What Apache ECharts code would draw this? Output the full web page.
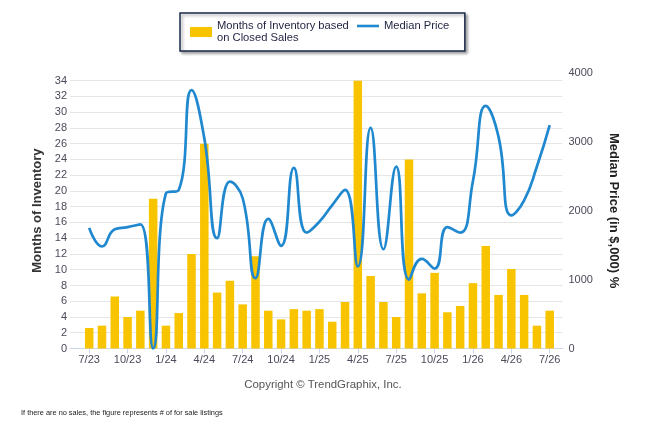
<!DOCTYPE html>
<html>
<head>
<meta charset="utf-8">
<script src="https://cdn.jsdelivr.net/npm/echarts@6/dist/echarts.min.js"></script>
<style>
  html, body { margin: 0; padding: 0; background: #fff; }
  #container { width: 646px; height: 434px; }
</style>
</head>
<body>
<div id="container"></div>
<script>
const months = [
  "7/23", "8/23", "9/23", "10/23", "11/23", "12/23",
  "1/24", "2/24", "3/24", "4/24", "5/24", "6/24",
  "7/24", "8/24", "9/24", "10/24", "11/24", "12/24",
  "1/25", "2/25", "3/25", "4/25", "5/25", "6/25",
  "7/25", "8/25", "9/25", "10/25", "11/25", "12/25",
  "1/26", "2/26", "3/26", "4/26", "5/26", "6/26", "7/26",
];

// months of inventory (left axis)
const inventory = [
  2.6, 2.9, 6.6, 4.0, 4.8, 19, 2.9, 4.5, 12, 26, 7.1, 8.6,
  5.6, 11.7, 4.8, 3.7, 5.0, 4.8, 5.0, 3.4, 5.9, 34, 9.2, 5.9,
  4.0, 24, 7.0, 9.6, 4.6, 5.4, 8.3, 13, 6.8, 10.1, 6.8, 2.9, 4.8,
];

// median price in $,000 (right axis)
const medianPrice = [
  1750, 1480, 1730, 1760, 1800, 0, 2250, 2300, 3750, 3050, 1600, 2420,
  2180, 1020, 1880, 1490, 2620, 1680, 1840, 2080, 2300, 1190, 3200, 1440,
  2640, 1000, 1300, 1160, 1760, 1680, 2430, 3520, 3070, 1930, 2150, 2640, 3240,
];

// every third month gets a label
const labelIndexes = [0, 3, 6, 9, 12, 15, 18, 21, 24, 27, 30, 33, 36];

const font = "Liberation Sans, Arial, sans-serif";
const barName = "Months of Inventory based\non Closed Sales";
const lineName = "Median Price";
const legendText = { fontSize: 11.2, color: "#1f2240", lineHeight: 12, fontFamily: font };

const dom = document.getElementById("container");
const myChart = echarts.init(dom, null, { renderer: "canvas" });

const option = {
  animation: false,
  textStyle: { fontFamily: font },
  legend: [
    {
      // framed box, holds the bar item
      left: 180,
      top: 13,
      padding: [7, 116, 7, 10],
      itemWidth: 22,
      itemHeight: 10,
      backgroundColor: "#fff",
      borderColor: "#1c2a4a",
      borderWidth: 1.5,
      shadowBlur: 3,
      shadowColor: "rgba(0,0,0,0.35)",
      shadowOffsetX: 2,
      shadowOffsetY: 2,
      textStyle: legendText,
      data: [{ name: barName, icon: "rect" }],
    },
    {
      // line item, sits inside the box on the first text row
      left: 357,
      top: 20,
      padding: 0,
      z: 6,
      itemWidth: 22,
      itemHeight: 10,
      textStyle: legendText,
      data: [{ name: lineName, icon: "path://M0,0L22,0L22,2.6L0,2.6Z" }],
    },
  ],
  grid: {
    left: 70,
    right: 83.5,
    top: 72.8,
    bottom: 85.5,
  },
  xAxis: {
    type: "value",
    min: -1.5,
    max: 37,
    splitLine: { show: false },
    axisLine: { show: true, onZero: false, lineStyle: { color: "#ccd6eb" } },
    axisTick: {
      show: true,
      customValues: labelIndexes,
      length: 5,
      lineStyle: { color: "#ccd6eb" },
    },
    axisLabel: {
      customValues: labelIndexes,
      formatter: (v) => months[v],
      color: "#4a4a5a",
      fontSize: 11,
      margin: 6,
    },
  },
  yAxis: [
    {
      type: "value",
      position: "left",
      min: 0,
      max: 35,
      interval: 2,
      name: "Months of Inventory",
      nameLocation: "middle",
      nameGap: 25,
      nameTextStyle: { fontSize: 13, fontWeight: "bold", color: "#333" },
      axisLine: { show: false },
      axisTick: { show: false },
      axisLabel: { showMaxLabel: false, color: "#4a4a5a", fontSize: 11, margin: 3 },
      splitLine: { showMaxLine: false, lineStyle: { color: "#e6e6e6" } },
    },
    {
      type: "value",
      position: "right",
      min: 0,
      max: 4000,
      interval: 1000,
      name: "Median Price (in $,000) %",
      nameLocation: "middle",
      nameRotate: -90,
      nameGap: 45,
      nameTextStyle: { fontSize: 13, fontWeight: "bold", color: "#222" },
      axisLine: { show: false },
      axisTick: { show: false },
      axisLabel: { formatter: (v) => String(v), color: "#4a4a5a", fontSize: 11, margin: 6 },
      splitLine: { show: false },
    },
  ],
  series: [
    {
      name: barName,
      type: "bar",
      yAxisIndex: 0,
      barWidth: 8.5,
      itemStyle: { color: "#f8c400" },
      data: inventory.map((v, i) => [i, v]),
    },
    {
      name: lineName,
      type: "line",
      yAxisIndex: 1,
      smooth: 0.5,
      symbol: "none",
      lineStyle: { color: "#1f88cf", width: 2.7 },
      itemStyle: { color: "#1f88cf" },
      data: medianPrice.map((v, i) => [i, v]),
    },
  ],
  graphic: [
    {
      type: "text",
      left: "center",
      top: 379,
      style: {
        text: "Copyright \u00a9 TrendGraphix, Inc.",
        fontSize: 11.4,
        fill: "#555",
        fontFamily: font,
      },
    },
    {
      type: "text",
      x: 21,
      y: 409,
      scaleX: 0.92,
      style: {
        text: "If there are no sales, the figure represents # of for sale listings",
        fontSize: 8,
        fill: "#222",
        fontFamily: font,
      },
    },
  ],
};

myChart.setOption(option);
window.addEventListener("resize", myChart.resize);
</script>
</body>
</html>
